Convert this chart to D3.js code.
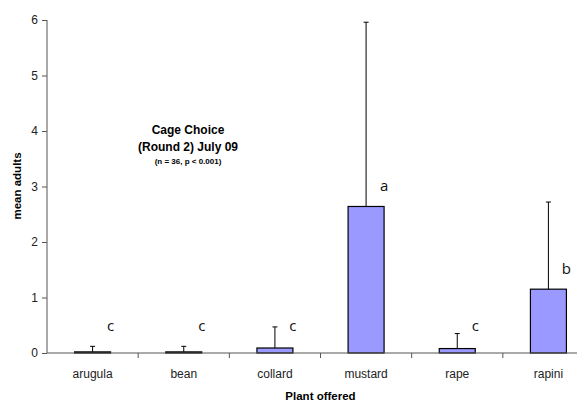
<!DOCTYPE html>
<html>
<head>
<meta charset="utf-8">
<script src="https://cdn.jsdelivr.net/npm/d3@7"></script>
<style>
  body { margin: 0; background: #fff; }
  text { font-family: "Liberation Sans", Arial, sans-serif; }
</style>
</head>
<body>
<div id="chart"></div>
<script>
// Data
var plants = ["arugula", "bean", "collard", "mustard", "rape", "rapini"];
var meanAdults = [0.02, 0.02, 0.09, 2.64, 0.08, 1.15];
var errTop = [0.12, 0.12, 0.47, 5.96, 0.35, 2.72];
var groups = ["c", "c", "c", "a", "c", "b"];
var yTicks = [0, 1, 2, 3, 4, 5, 6];

var width = 587, height = 403;
var plotLeft = 47, plotRight = 594, plotTop = 20, plotBottom = 353;

var svg = d3.select("#chart").append("svg")
    .attr("width", width)
    .attr("height", height);

var xScale = d3.scaleBand()
    .domain(plants)
    .range([plotLeft, plotRight])
    .paddingInner(0)
    .paddingOuter(0);

var yScale = d3.scaleLinear()
    .domain([0, 6])
    .range([plotBottom, plotTop]);

var bw = 36;
function cx(d) { return xScale(d) + xScale.bandwidth() / 2; }

// Bars
svg.selectAll(".bar")
    .data(plants)
  .enter().append("rect")
    .attr("class", "bar")
    .attr("x", function(d) { return cx(d) - bw / 2; })
    .attr("y", function(d, i) { return yScale(meanAdults[i]); })
    .attr("width", bw)
    .attr("height", function(d, i) { return plotBottom - yScale(meanAdults[i]); })
    .attr("fill", "#9999ff")
    .attr("stroke", "#000")
    .attr("stroke-width", 1.2);

// Error bars (upper only)
var eb = svg.selectAll(".err")
    .data(plants)
  .enter().append("g")
    .attr("class", "err");

eb.append("line")
    .attr("x1", cx)
    .attr("x2", cx)
    .attr("y1", function(d, i) { return yScale(meanAdults[i]); })
    .attr("y2", function(d, i) { return yScale(errTop[i]); })
    .attr("stroke", "#000")
    .attr("stroke-width", 1);

eb.append("line")
    .attr("x1", function(d) { return cx(d) - 2.5; })
    .attr("x2", function(d) { return cx(d) + 2.5; })
    .attr("y1", function(d, i) { return yScale(errTop[i]); })
    .attr("y2", function(d, i) { return yScale(errTop[i]); })
    .attr("stroke", "#000")
    .attr("stroke-width", 1);

// Group letters
svg.selectAll(".grp")
    .data(plants)
  .enter().append("text")
    .attr("class", "grp")
    .attr("x", function(d) { return cx(d) + 18; })
    .attr("y", function(d, i) { return Math.min(yScale(meanAdults[i]) - 15, yScale(0.4)); })
    .attr("text-anchor", "middle")
    .style("font-family", "'Open Sans', sans-serif")
    .style("font-size", "15px")
    .attr("fill", "#111")
    .text(function(d, i) { return groups[i]; });

// Y axis
var yAxis = svg.append("g")
    .attr("transform", "translate(" + plotLeft + ",0)")
    .call(d3.axisLeft(yScale).tickValues(yTicks).tickFormat(d3.format("d")).tickSize(5).tickPadding(4));
yAxis.selectAll("text").style("font-size", "12px").attr("fill", "#222");
yAxis.selectAll("line").attr("stroke", "#555");
yAxis.select(".domain").attr("stroke", "#555").attr("d", "M0," + plotTop + "V" + plotBottom);

// X axis
var xg = svg.append("g").attr("class", "x axis");
xg.append("line")
    .attr("x1", plotLeft).attr("x2", 577)
    .attr("y1", plotBottom).attr("y2", plotBottom)
    .attr("stroke", "#555");
xg.selectAll(".xtick")
    .data(plants.slice(1))
  .enter().append("line")
    .attr("x1", function(d) { return xScale(d); })
    .attr("x2", function(d) { return xScale(d); })
    .attr("y1", plotBottom)
    .attr("y2", plotBottom + 5)
    .attr("stroke", "#555");
xg.selectAll(".xlab")
    .data(plants)
  .enter().append("text")
    .attr("x", cx)
    .attr("y", 378)
    .attr("text-anchor", "middle")
    .style("font-size", "12px")
    .attr("fill", "#222")
    .text(function(d) { return d; });

// Axis titles
svg.append("text")
    .attr("x", (plotLeft + plotRight) / 2)
    .attr("y", 400)
    .attr("text-anchor", "middle")
    .style("font-size", "11.5px")
    .style("font-weight", "bold")
    .text("Plant offered");

svg.append("text")
    .attr("transform", "rotate(-90)")
    .attr("x", -186)
    .attr("y", 21)
    .attr("text-anchor", "middle")
    .style("font-size", "11.5px")
    .style("font-weight", "bold")
    .text("mean adults");

// Inset title
var tt = svg.append("g").attr("text-anchor", "middle").style("font-weight", "bold");
tt.append("text").attr("x", 188).attr("y", 134).style("font-size", "12px").text("Cage Choice");
tt.append("text").attr("x", 188).attr("y", 151).style("font-size", "12px").text("(Round 2) July 09");
tt.append("text").attr("x", 188).attr("y", 164).style("font-size", "8px").text("(n = 36, p < 0.001)");
</script>
</body>
</html>
